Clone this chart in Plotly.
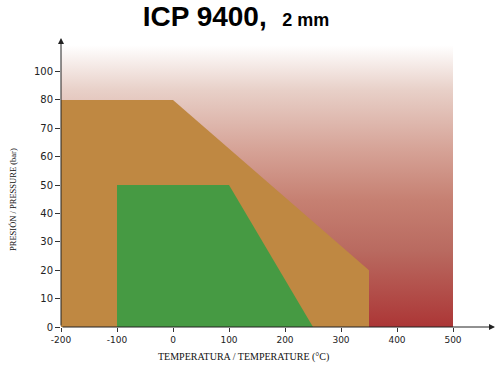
import plotly.graph_objects as go

# ---- data ----
bg_x = [-200, 500, 500, -200]
bg_y = [0, 0, 99.3, 99.3]
brown_x = [-200, -200, 0, 350, 350]
brown_y = [0, 80, 80, 20, 0]
green_x = [-100, -100, 100, 250]
green_y = [0, 50, 50, 0]
x_ticks = [-200, -100, 0, 100, 200, 300, 400, 500]
x_tick_text = ["-200", "-100", "0", "100", "200", "300", "400", "500"]
y_ticks = [0, 10, 20, 30, 40, 50, 60, 70, 80, 90]
y_tick_text = ["0", "10", "20", "30", "40", "50", "60", "70", "80", "100"]
x_range = [-200, 575]
y_range = [0, 101.8]

fig = go.Figure()
fig.add_trace(go.Scatter(
    x=bg_x, y=bg_y, mode="lines", fill="toself", line=dict(width=0),
    fillgradient=dict(type="vertical", start=0, stop=99.3,
                      colorscale=[[0, "#ac3636"], [0.27, "#b96a60"], [0.45, "#c68072"],
                                  [0.63, "#d6a397"], [0.84, "#e8d0c8"], [1, "#ffffff"]]),
    hoverinfo="skip", showlegend=False))
fig.add_trace(go.Scatter(x=brown_x, y=brown_y, mode="lines", fill="toself",
                         fillcolor="#bf8842", line=dict(width=0), showlegend=False))
fig.add_trace(go.Scatter(x=green_x, y=green_y, mode="lines", fill="toself",
                         fillcolor="#469a43", line=dict(width=0), showlegend=False))

# axis arrows
fig.add_annotation(x=x_range[1], y=0, ax=-200, ay=0, xref="x", yref="y", axref="x", ayref="y",
                   showarrow=True, arrowhead=2, arrowsize=1.2, arrowwidth=1, arrowcolor="#222", text="")
fig.add_annotation(x=-200, y=y_range[1], ax=-200, ay=0, xref="x", yref="y", axref="x", ayref="y",
                   showarrow=True, arrowhead=2, arrowsize=1.2, arrowwidth=1, arrowcolor="#222", text="")

fig.add_annotation(text="TEMPERATURA / TEMPERATURE (°C)", xref="paper", yref="paper",
                   x=(243 - 61) / 434, y=(327 - 357) / 289, showarrow=False,
                   xanchor="center", yanchor="middle",
                   font=dict(family="Liberation Serif", size=10, color="#111"))
fig.add_annotation(text="PRESIÓN / PRESSURE (bar)", xref="paper", yref="paper",
                   x=(13 - 61) / 434, y=(327 - 200) / 289, showarrow=False, textangle=-90,
                   xanchor="center", yanchor="middle",
                   font=dict(family="Liberation Serif", size=8.5, color="#111"))

fig.update_layout(
    width=500, height=365,
    margin=dict(l=61, r=5, t=38, b=38),
    paper_bgcolor="white", plot_bgcolor="white",
    title=dict(text="<b>ICP 9400,</b>&nbsp;&nbsp;<b><span style='font-size:18px'>2 mm</span></b>",
               x=236 / 500, xanchor="center", y=1 - 16 / 365, yanchor="middle",
               font=dict(family="Liberation Sans", size=28, color="#000")),
    xaxis=dict(range=x_range, tickvals=x_ticks, ticktext=x_tick_text, showgrid=False,
               zeroline=False, showline=False,
               ticks="outside", ticklen=4, tickcolor="#333", tickwidth=1,
               tickfont=dict(family="DejaVu Sans", size=9, color="#222")),
    yaxis=dict(range=y_range, tickvals=y_ticks, ticktext=y_tick_text, showgrid=False,
               zeroline=False, showline=False,
               ticks="outside", ticklen=5, tickcolor="#333", tickwidth=1,
               tickfont=dict(family="DejaVu Sans", size=10, color="#222")),
)

fig.write_html("out.html")
